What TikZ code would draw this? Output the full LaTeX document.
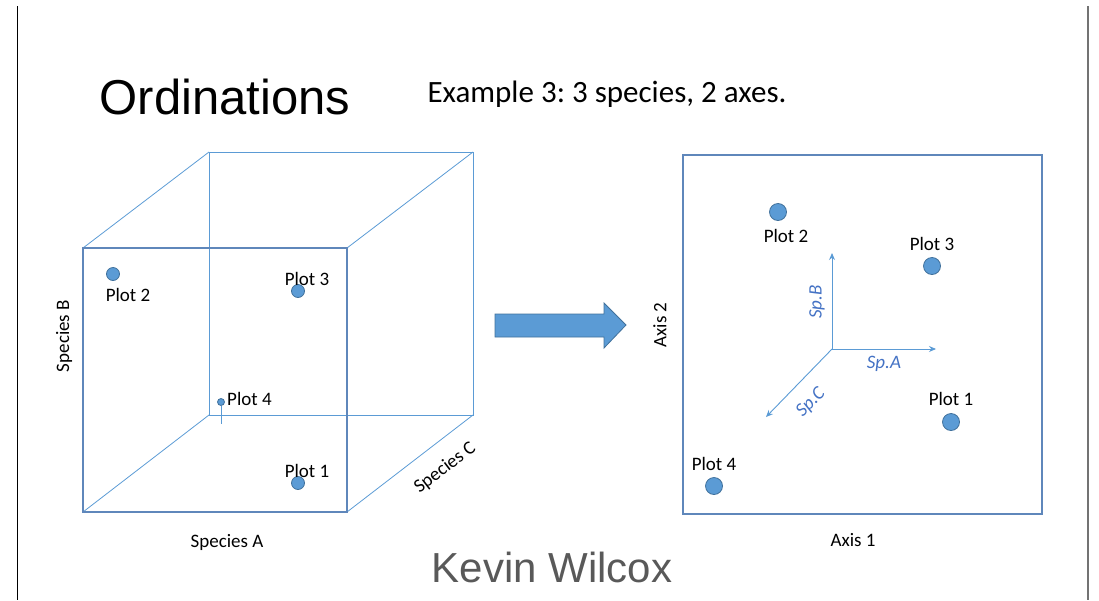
\documentclass[tikz,border=0pt]{standalone}
\usepackage{fontspec}
\setmainfont{Carlito}
\newfontfamily\arialfont{Liberation Sans}
\usetikzlibrary{arrows.meta}
\frenchspacing

\definecolor{dotblue}{HTML}{5B9BD5}
\definecolor{dotedge}{HTML}{41719C}
\definecolor{edgeblue}{HTML}{5B9BD5}
\definecolor{faceblue}{HTML}{5F87BB}
\definecolor{labelblue}{HTML}{4472C4}

\tikzset{
  plot/.style={circle, fill=dotblue, draw=dotedge, line width=0.8pt, inner sep=0pt, minimum size=#1},
  plot/.default=13pt,
  lbl/.style={inner sep=0pt, font=\fontsize{19}{22}\selectfont},
  sp/.style={inner sep=0pt, text=labelblue, font=\fontsize{19}{22}\selectfont\itshape},
  edge/.style={draw=edgeblue, line width=0.8pt},
  spaxis/.style={draw=edgeblue, line width=0.9pt, -{Stealth[length=7pt,width=6pt]}}
}

\begin{document}
\begin{tikzpicture}[x=1pt, y=-1pt]
  \useasboundingbox (0,0) rectangle (1099,600);
  \draw[black, line width=1pt] (17,6) -- (17,600);
  \draw[black!55, line width=1.4pt] (1088,6) -- (1088,600);

  % titles
  \node (title) at (225,97) {\arialfont\fontsize{49}{56}\selectfont Ordinations};
  \node (example) at (607,94) {\fontsize{31}{36}\selectfont Example 3: 3 species, 2 axes.};
  \node[text=black!65] (author) at (552,567) {\arialfont\fontsize{42}{48}\selectfont Kevin Wilcox};

  % cube corners
  \coordinate (f1) at (83,248);
  \coordinate (f2) at (347,248);
  \coordinate (f3) at (347,512);
  \coordinate (f4) at (83,512);
  \coordinate (b1) at (209,152);
  \coordinate (b2) at (473,152);
  \coordinate (b3) at (473,415);
  \coordinate (b4) at (209,415);
  \draw[edge] (b1) -- (b2) -- (b3) -- (b4) -- cycle;
  \draw[edge] (f1) -- (b1) (f2) -- (b2) (f3) -- (b3) (f4) -- (b4);
  \draw[draw=faceblue, line width=1.3pt] (f1) -- (f2) -- (f3) -- (f4) -- cycle;

  \node[lbl, rotate=90] (spB) at (64,336) {Species B};
  \node[lbl] (spA) at (227,542) {Species A};
  \node[lbl, rotate=37.4] (spC) at (445,468) {Species C};

  % plots in species space
  \node[plot] (c2) at (113,274) {};
  \node[plot] (c3) at (298,291) {};
  \node[plot] (c1) at (298,483) {};
  \node[plot=7pt] (c4) at (221,402) {};
  \coordinate (c4foot) at (221,424);
  \draw[edge] (c4) -- (c4foot);
  \node[lbl] (c2lbl) at (128,295) {Plot 2};
  \node[lbl] (c3lbl) at (307,279) {Plot 3};
  \node[lbl] (c1lbl) at (307,471) {Plot 1};
  \node[lbl, anchor=west] (c4lbl) at (227,399) {Plot 4};

  % block arrow
  \fill[dotblue, draw=dotedge, line width=0.8pt]
    (495,314) -- (604,314) -- (604,303) -- (626,325) -- (604,348) -- (604,337) -- (495,337) -- cycle;

  % ordination space
  \draw[edge, line width=1.1pt, draw=faceblue] (683,155) rectangle (1042,514);
  \node[lbl, rotate=90] (ax2) at (660,325) {Axis 2};
  \node[lbl] (ax1) at (853,540) {Axis 1};

  \coordinate (o) at (832,349);
  \coordinate (oA) at (936,349);
  \coordinate (oB) at (832,253);
  \coordinate (oC) at (766,417);
  \draw[spaxis] (o) -- (oA);
  \draw[spaxis] (o) -- (oB);
  \draw[spaxis] (o) -- (oC);
  \node[sp] (sa) at (884,364) {Sp.A};
  \node[sp, rotate=90] (sb) at (817,302) {Sp.B};
  \node[sp, rotate=46] (sc) at (811,403) {Sp.C};

  \node[plot=17pt] (r2) at (778,212) {};
  \node[plot=17pt] (r3) at (932,266) {};
  \node[plot=17pt] (r1) at (951,422) {};
  \node[plot=17pt] (r4) at (714,486) {};
  \node[lbl] (r2lbl) at (786,236) {Plot 2};
  \node[lbl] (r3lbl) at (932,244) {Plot 3};
  \node[lbl] (r1lbl) at (951,399) {Plot 1};
  \node[lbl] (r4lbl) at (714,464) {Plot 4};
\end{tikzpicture}
\end{document}
